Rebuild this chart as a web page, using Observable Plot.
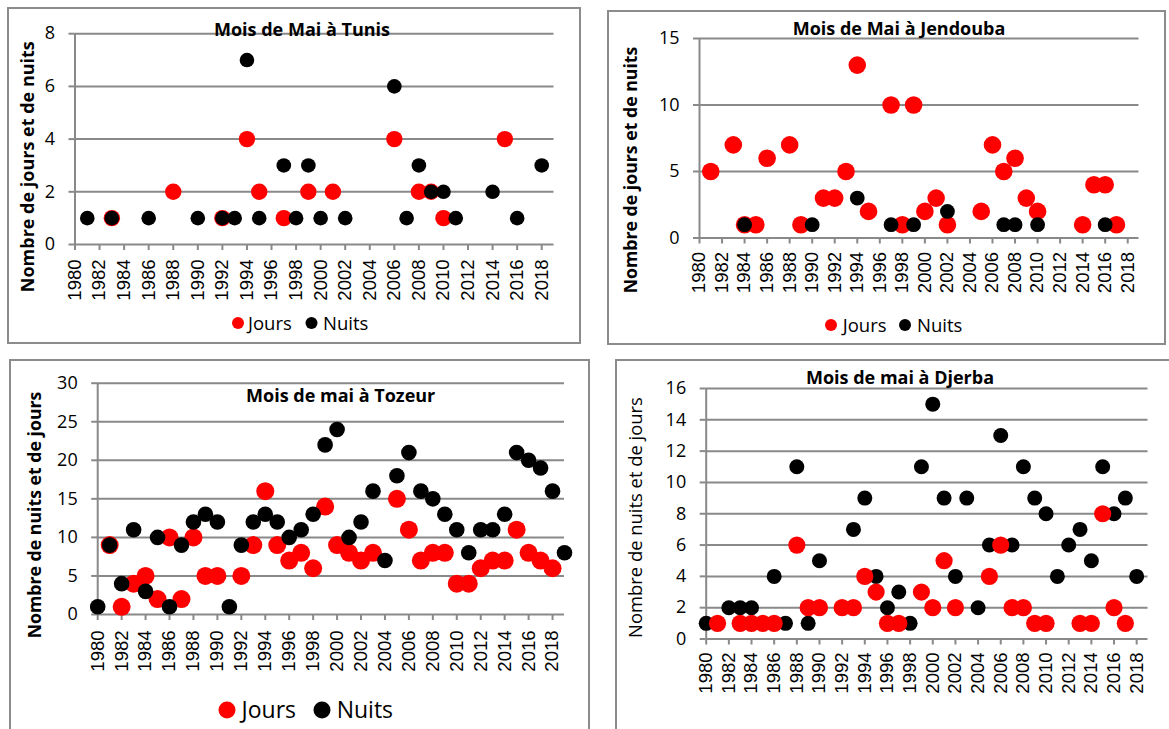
<!DOCTYPE html>
<html><head><meta charset="utf-8">
<script src="https://cdn.jsdelivr.net/npm/d3@7"></script>
<script src="https://cdn.jsdelivr.net/npm/@observablehq/plot@0.6"></script>
<style>
html,body{margin:0;padding:0;background:#fff;}
#page{position:relative;width:1169px;height:729px;overflow:hidden;background:#fff;}
.box{position:absolute;box-sizing:border-box;border:2px solid #8c8c8c;}
.chart{position:absolute;}
#overlay{position:absolute;left:0;top:0;}
</style></head><body><div id="page"></div>
<script>
// ---------- DATA ----------
const xTickYears = [1980,1982,1984,1986,1988,1990,1992,1994,1996,1998,2000,2002,2004,2006,2008,2010,2012,2014,2016,2018];
const seriesNames = ["Jours", "Nuits"];

// Tunis
const tunisTicks = [0,2,4,6,8];
const tunisJoursYears = [1983,1988,1992,1994,1995,1997,1999,2001,2006,2008,2009,2010,2015];
const tunisJoursVals  = [1,2,1,4,2,1,2,2,4,2,2,1,4];
const tunisNuitsYears = [1981,1983,1986,1990,1992,1993,1994,1995,1997,1998,1999,2000,2002,2006,2007,2008,2009,2010,2011,2014,2016,2018];
const tunisNuitsVals  = [1,1,1,1,1,1,7,1,3,1,3,1,1,6,1,3,2,2,1,2,1,3];

// Jendouba
const jendoubaTicks = [0,5,10,15];
const jendoubaJoursYears = [1981,1983,1984,1985,1986,1988,1989,1991,1992,1993,1994,1995,1997,1998,1999,2000,2001,2002,2005,2006,2007,2008,2009,2010,2014,2015,2016,2017];
const jendoubaJoursVals  = [5,7,1,1,6,7,1,3,3,5,13,2,10,1,10,2,3,1,2,7,5,6,3,2,1,4,4,1];
const jendoubaNuitsYears = [1984,1990,1994,1997,1999,2002,2007,2008,2010,2016];
const jendoubaNuitsVals  = [1,1,3,1,1,2,1,1,1,1];

// Tozeur
const tozeurTicks = [0,5,10,15,20,25,30];
const tozeurJoursYears = [1981,1982,1983,1984,1985,1986,1987,1988,1989,1990,1992,1993,1994,1995,1996,1997,1998,1999,2000,2001,2002,2003,2005,2006,2007,2008,2009,2010,2011,2012,2013,2014,2015,2016,2017,2018];
const tozeurJoursVals  = [9,1,4,5,2,10,2,10,5,5,5,9,16,9,7,8,6,14,9,8,7,8,15,11,7,8,8,4,4,6,7,7,11,8,7,6];
const tozeurNuitsYears = [1980,1981,1982,1983,1984,1985,1986,1987,1988,1989,1990,1991,1992,1993,1994,1995,1996,1997,1998,1999,2000,2001,2002,2003,2004,2005,2006,2007,2008,2009,2010,2011,2012,2013,2014,2015,2016,2017,2018,2019];
const tozeurNuitsVals  = [1,9,4,11,3,10,1,9,12,13,12,1,9,12,13,12,10,11,13,22,24,10,12,16,7,18,21,16,15,13,11,8,11,11,13,21,20,19,16,8];

// Djerba
const djerbaTicks = [0,2,4,6,8,10,12,14,16];
const djerbaJoursYears = [1981,1983,1984,1985,1986,1988,1989,1990,1992,1993,1994,1995,1996,1997,1999,2000,2001,2002,2005,2006,2007,2008,2009,2010,2013,2014,2015,2016,2017];
const djerbaJoursVals  = [1,1,1,1,1,6,2,2,2,2,4,3,1,1,3,2,5,2,4,6,2,2,1,1,1,1,8,2,1];
const djerbaNuitsYears = [1980,1982,1983,1984,1986,1987,1988,1989,1990,1993,1994,1995,1996,1997,1998,1999,2000,2001,2002,2003,2004,2005,2006,2007,2008,2009,2010,2011,2012,2013,2014,2015,2016,2017,2018];
const djerbaNuitsVals  = [1,2,2,2,4,1,11,1,5,7,9,4,2,3,1,11,15,9,4,9,2,6,13,6,11,9,8,4,6,7,5,11,8,9,4];

// ---------- LAYOUT ----------
const GRID = "#898989";
const RED = "#ff0000";
const LABEL_FONT = "'Open Sans', sans-serif";
const TICK_FONT = "'Liberation Sans', Arial, sans-serif";

const panels = [
  {title:"Mois de Mai à Tunis", ylab:"Nombre de jours et de nuits", ylabBold:true,
   jy:tunisJoursYears, jv:tunisJoursVals, ny:tunisNuitsYears, nv:tunisNuitsVals, ticks:tunisTicks, yMax:8,
   box:[7.5,7.5,580,343], plot:{left:74,right:553,top:32.7,bottom:243.5}, rJ:8.2, rN:7.3, xPad:9, redOnTop:false,
   titlePos:[302,35.6], ylabPos:[34,166.7], ylabSize:18,
   legend:{y:323, size:18.5, r:6, items:[[238,248],[311.5,323]]}},
  {title:"Mois de Mai à Jendouba", ylab:"Nombre de jours et de nuits", ylabBold:true,
   jy:jendoubaJoursYears, jv:jendoubaJoursVals, ny:jendoubaNuitsYears, nv:jendoubaNuitsVals, ticks:jendoubaTicks, yMax:15,
   box:[608,11,1165,344], plot:{left:699,right:1138.5,top:38,bottom:237.5}, rJ:8.8, rN:7.4, xPad:8, redOnTop:false,
   titlePos:[899,35], ylabPos:[637,170], ylabSize:17.7,
   legend:{y:325, size:18.5, r:6, items:[[831,842.7],[905,917]]}},
  {title:"Mois de mai à Tozeur", ylab:"Nombre de nuits et de jours", ylabBold:true,
   jy:tozeurJoursYears, jv:tozeurJoursVals, ny:tozeurNuitsYears, nv:tozeurNuitsVals, ticks:tozeurTicks, yMax:30,
   box:[9.5,360,589,745], plot:{left:96.7,right:563.5,top:382.7,bottom:614}, rJ:9, rN:7.8, xPad:10, redOnTop:false,
   titlePos:[340.7,401.5], ylabPos:[41,515], ylabSize:17.7,
   legend:{y:710, size:23, r:8.5, items:[[227,241.6],[322,336.7]]}},
  {title:"Mois de mai à Djerba", ylab:"Nombre de nuits et de jours", ylabBold:false,
   jy:djerbaJoursYears, jv:djerbaJoursVals, ny:djerbaNuitsYears, nv:djerbaNuitsVals, ticks:djerbaTicks, yMax:16,
   box:[616,360,1180,745], plot:{left:705.7,right:1147.5,top:388,bottom:638.5}, rJ:8.6, rN:7.5, xPad:7.5, redOnTop:true,
   titlePos:[900,384], ylabPos:[642,517.5], ylabSize:18.4,
   legend:null}
];

const page = document.getElementById("page");

for (const p of panels) {
  const [x0,y0,x1,y1] = p.box;
  const box = document.createElement("div");
  box.className = "box";
  box.style.left = (x0-1)+"px"; box.style.top = (y0-1)+"px";
  box.style.width = (x1-x0+2)+"px"; box.style.height = (y1-y0+2)+"px";
  page.appendChild(box);
}

for (const p of panels) {
  const [x0,y0,x1,y1] = p.box;
  const W = x1-x0, H = y1-y0;
  const jours = p.jy.map((year,i)=>({year, value:p.jv[i], serie:seriesNames[0]}));
  const nuits = p.ny.map((year,i)=>({year, value:p.nv[i], serie:seriesNames[1]}));
  const dJ = Plot.dot(jours, {x:"year", y:"value", r:p.rJ, fill:RED, stroke:"none"});
  const dN = Plot.dot(nuits, {x:"year", y:"value", r:p.rN, fill:"#000", stroke:"none"});
  const chart = Plot.plot({
    width: W, height: H,
    marginLeft: p.plot.left - x0, marginRight: x1 - p.plot.right,
    marginTop: p.plot.top - y0, marginBottom: y1 - p.plot.bottom,
    x: {type:"linear", domain:[1980,2019]},
    y: {type:"linear", domain:[0,p.yMax]},
    style: {background:"transparent", overflow:"visible"},
    marks: [
      Plot.ruleY(p.ticks, {stroke:GRID, strokeWidth:2}),
      Plot.ruleX([1980], {stroke:GRID, strokeWidth:2}),
      Plot.axisY({ticks:p.ticks, tickSize:6, tickPadding:14, stroke:GRID, strokeWidth:2, fill:"#000",
                  fontSize:18, fontFamily:LABEL_FONT, label:null, tickFormat:d=>String(d)}),
      Plot.axisX({ticks:xTickYears, tickSize:6, tickPadding:p.xPad, tickRotate:-90, stroke:GRID, strokeWidth:2, fill:"#000",
                  fontSize:18.5, fontFamily:TICK_FONT, label:null, tickFormat:d=>String(d)}),
      ...(p.redOnTop ? [dN, dJ] : [dJ, dN])
    ]
  });
  chart.classList.add("chart");
  chart.style.left = x0+"px"; chart.style.top = y0+"px";
  page.appendChild(chart);
}

// overlay: titles, axis labels, legends
const NS = "http://www.w3.org/2000/svg";
const ov = document.createElementNS(NS, "svg");
ov.setAttribute("id","overlay");
ov.setAttribute("width",1169); ov.setAttribute("height",729);
page.appendChild(ov);
function txt(s, attrs) {
  const t = document.createElementNS(NS,"text");
  for (const k in attrs) t.setAttribute(k, attrs[k]);
  t.textContent = s; ov.appendChild(t); return t;
}
function circ(cx, cy, r, fill) {
  const c = document.createElementNS(NS,"circle");
  c.setAttribute("cx",cx); c.setAttribute("cy",cy); c.setAttribute("r",r); c.setAttribute("fill",fill);
  ov.appendChild(c);
}
for (const p of panels) {
  txt(p.title, {x:p.titlePos[0], y:p.titlePos[1], "text-anchor":"middle", "font-family":LABEL_FONT, "font-size":18, "font-weight":"bold", fill:"#000"});
  txt(p.ylab, {transform:`translate(${p.ylabPos[0]},${p.ylabPos[1]}) rotate(-90)`, "text-anchor":"middle",
      "font-family":LABEL_FONT, "font-size":p.ylabSize, "font-weight":p.ylabBold?"bold":"normal", fill:"#000"});
  if (p.legend) {
    const L = p.legend, cols = [RED, "#000"];
    L.items.forEach(([cx,tx],i)=>{
      circ(cx, L.y, L.r, cols[i]);
      txt(seriesNames[i], {x:tx, y:L.y + L.size*0.36, "font-family":LABEL_FONT, "font-size":L.size, fill:"#000"});
    });
  }
}
</script></body></html>
